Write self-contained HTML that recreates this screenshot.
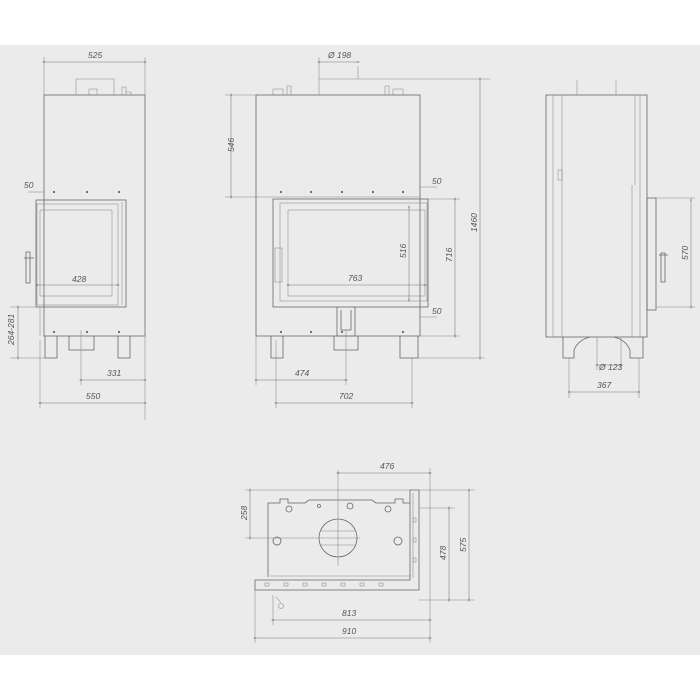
<!DOCTYPE html>
<html><head><meta charset="utf-8"><style>
html,body{margin:0;padding:0;background:#fff}
svg{display:block}
text{font-family:"Liberation Sans",sans-serif;font-size:8.5px;font-style:italic;fill:#555}
.s{stroke:#666;stroke-width:0.8;fill:none}
.t{stroke:#888;stroke-width:0.55;fill:none}
.d{stroke:#777;stroke-width:0.55;fill:none;marker-start:url(#a);marker-end:url(#a)}
.p{fill:#666}
</style></head><body>
<svg width="700" height="700" viewBox="0 0 700 700">
<defs><marker id="a" viewBox="0 0 6 6" refX="3" refY="3" markerWidth="5" markerHeight="5" orient="auto"><path d="M0,3 L6,3" stroke="#555" stroke-width="1.5"/></marker></defs>
<rect x="0" y="45" width="700" height="610" fill="#ebebeb"/>

<!-- LEFT VIEW -->
<rect class="s" x="44" y="95" width="101" height="241"/>
<path class="t" d="M76,95 V79 H114 V95 M89,95 V89 H97 V95 M122,95 V87 H126 V95 M126,92 H131 V95"/>
<path class="t" d="M44,57 V95 M145,57 V420"/>
<line class="d" x1="44" y1="62" x2="145" y2="62"/><text x="88" y="58">525</text>
<rect class="s" x="36" y="200" width="90" height="107" fill="#ebebeb"/>
<rect class="t" x="37" y="204" width="81" height="101"/>
<rect class="t" x="40" y="210" width="72" height="86"/>
<path class="t" d="M122,202 V305"/>
<path class="s" d="M24,258 H34 M26,252 V283 H30 V252 Z"/>
<line class="d" x1="37" y1="285" x2="118" y2="285"/><text x="72" y="282">428</text>
<line class="t" x1="28" y1="192" x2="44" y2="192"/><text x="24" y="188">50</text>
<g class="p"><circle cx="54" cy="192" r="1.1"/><circle cx="87" cy="192" r="1.1"/><circle cx="119" cy="192" r="1.1"/><circle cx="54" cy="332" r="1.1"/><circle cx="87" cy="332" r="1.1"/><circle cx="119" cy="332" r="1.1"/></g>
<path class="t" d="M40,307 V336 M44,307 V330"/>
<path class="s" d="M45,336 V358 H57 V336 M118,336 V358 H130 V336 M69,336 V350 H94 V336"/>
<path class="t" d="M10,307 H36 M10,358 H45 M81,330 V385 M40,340 V408"/>
<line class="d" x1="18" y1="307" x2="18" y2="358"/><text transform="translate(14,345) rotate(-90)">264-281</text>
<line class="d" x1="81" y1="380" x2="145" y2="380"/><text x="107" y="376">331</text>
<line class="d" x1="40" y1="403" x2="145" y2="403"/><text x="86" y="399">550</text>

<!-- MIDDLE VIEW -->
<rect class="s" x="256" y="95" width="164" height="241"/>
<path class="t" d="M273,95 V89 H283 V95 M287,95 V86 H291 V95 M385,95 V86 H389 V95 M393,95 V89 H403 V95 M319,95 V57 M319,79 H490 M358,79 V66"/>
<line class="d" x1="319" y1="62" x2="358" y2="62"/><text x="328" y="58">Ø 198</text>
<path class="t" d="M225,95 H256 M225,197 H420"/>
<line class="d" x1="231" y1="95" x2="231" y2="197"/><text transform="translate(234,152) rotate(-90)">546</text>
<rect class="s" x="273" y="199" width="155" height="108" fill="#ebebeb"/>
<rect class="t" x="280" y="203" width="147" height="98"/>
<rect class="t" x="288" y="210" width="137" height="86"/>
<rect class="t" x="275" y="248" width="7" height="34"/>
<path class="s" d="M337,307 V336 H355 V307 M341,310 V330 H351 V310 M334,336 V350 H358 V336"/>
<path class="t" d="M346,330 V385"/>
<path class="s" d="M271,336 V358 H283 V336 M400,336 V358 H418 V336"/>
<g class="p"><circle cx="281" cy="192" r="1.1"/><circle cx="311" cy="192" r="1.1"/><circle cx="342" cy="192" r="1.1"/><circle cx="373" cy="192" r="1.1"/><circle cx="403" cy="192" r="1.1"/><circle cx="281" cy="332" r="1.1"/><circle cx="311" cy="332" r="1.1"/><circle cx="342" cy="332" r="1.1"/><circle cx="403" cy="332" r="1.1"/></g>
<line class="d" x1="409" y1="207" x2="409" y2="300"/><text transform="translate(406,258) rotate(-90)">516</text>
<path class="t" d="M428,199 H460 M420,336 H460 M418,358 H485"/>
<line class="d" x1="455" y1="199" x2="455" y2="336"/><text transform="translate(452,262) rotate(-90)">716</text>
<line class="d" x1="480" y1="79" x2="480" y2="358"/><text transform="translate(477,232) rotate(-90)">1460</text>
<line class="d" x1="288" y1="285" x2="425" y2="285"/><text x="348" y="281">763</text>
<line class="t" x1="420" y1="187" x2="437" y2="187"/><text x="432" y="184">50</text>
<line class="t" x1="420" y1="317" x2="437" y2="317"/><text x="432" y="314">50</text>
<path class="t" d="M256,336 V385 M276,340 V408 M412,358 V408"/>
<line class="d" x1="256" y1="380" x2="346" y2="380"/><text x="295" y="376">474</text>
<line class="d" x1="276" y1="403" x2="412" y2="403"/><text x="339" y="399">702</text>

<!-- RIGHT VIEW -->
<rect class="s" x="546" y="95" width="101" height="242"/>
<path class="t" d="M553,95 V337 M562,95 V337 M632,185 V337 M640,95 V337 M635,95 V185 M577,95 V80 M616,95 V80"/>
<rect class="t" x="558" y="170" width="4" height="10"/>
<rect class="s" x="647" y="198" width="9" height="112"/>
<path class="s" d="M659,255 H668 M661,253 V282 H665 V253 Z"/>
<path class="t" d="M656,198 H695 M656,307 H695"/>
<line class="d" x1="691" y1="200" x2="691" y2="307"/><text transform="translate(688,260) rotate(-90)">570</text>
<path class="s" d="M563,337 V358 H574 V350 Q578,340 590,337 M643,337 V358 H630 V350 Q626,340 614,337"/>
<path class="t" d="M597,337 V370 M621,337 V370 M569,358 V398 M639,358 V398"/>
<line class="d" x1="597" y1="365" x2="621" y2="365"/><text x="599" y="370">Ø 123</text>
<line class="d" x1="569" y1="392" x2="639" y2="392"/><text x="597" y="388">367</text>

<!-- BOTTOM VIEW -->
<path class="s" d="M268,577 V503 H280 V499 H288 V503 H305 L309,500 H372 L376,503 H395 V499 H403 V503 H410"/>
<path class="s" d="M410,490 H419 V590 H255 V580 H410 Z"/>
<path class="t" d="M270,576 H410 M413,493 V578"/>
<circle class="s" cx="338" cy="538" r="19"/>
<path class="t" d="M321,531 H355 M321,545 H355 M338,470 V566 M245,538 H360"/>
<g class="s"><circle cx="289" cy="509" r="3"/><circle cx="350" cy="506" r="3"/><circle cx="388" cy="509" r="3"/><circle cx="277" cy="541" r="4"/><circle cx="398" cy="541" r="4"/><circle cx="319" cy="506" r="1.5"/></g>
<g class="t"><rect x="265" y="583" width="4" height="3"/><rect x="284" y="583" width="4" height="3"/><rect x="303" y="583" width="4" height="3"/><rect x="322" y="583" width="4" height="3"/><rect x="341" y="583" width="4" height="3"/><rect x="360" y="583" width="4" height="3"/><rect x="379" y="583" width="4" height="3"/><rect x="413" y="518" width="3" height="4"/><rect x="413" y="538" width="3" height="4"/><rect x="413" y="558" width="3" height="4"/></g>
<path class="t" d="M430,468 V643 M245,490 H475 M419,508 H455 M419,600 H475 M273,595 V625 M255,590 V643 M276,597 L281,603"/>
<circle class="t" cx="281" cy="606" r="2.5"/>
<line class="d" x1="338" y1="473" x2="430" y2="473"/><text x="380" y="469">476</text>
<line class="d" x1="250" y1="490" x2="250" y2="538"/><text transform="translate(247,520) rotate(-90)">258</text>
<line class="d" x1="449" y1="508" x2="449" y2="600"/><text transform="translate(446,560) rotate(-90)">478</text>
<line class="d" x1="469" y1="490" x2="469" y2="600"/><text transform="translate(466,552) rotate(-90)">575</text>
<line class="d" x1="273" y1="620" x2="430" y2="620"/><text x="342" y="616">813</text>
<line class="d" x1="255" y1="638" x2="430" y2="638"/><text x="342" y="634">910</text>
</svg>
</body></html>
